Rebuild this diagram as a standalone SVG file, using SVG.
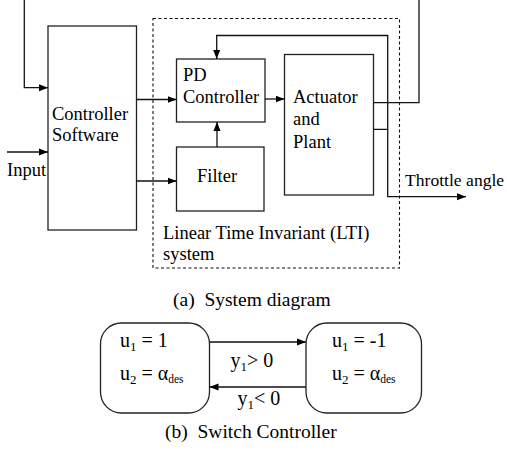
<svg xmlns="http://www.w3.org/2000/svg" width="507" height="455" viewBox="0 0 507 455">
<style>
text{font-family:"Liberation Serif","Times New Roman",serif;font-size:18.5px;fill:#000}
.cap{font-size:19.5px}
.st{font-size:20px}
.box{fill:#fff;stroke:#222;stroke-width:1.3}
.dash{fill:none;stroke:#111;stroke-width:1.1;stroke-dasharray:3,2.5}
.ln{fill:none;stroke:#111;stroke-width:1.3}
.sub{font-size:13px}
.sub2{font-size:11.5px}
</style>
<defs>
<marker id="ah" markerUnits="userSpaceOnUse" markerWidth="9" markerHeight="8" refX="9" refY="4" orient="auto">
<path d="M0,0.5 L9,4 L0,7.5 z" fill="#000"/>
</marker>
</defs>
<rect width="507" height="455" fill="#fff"/>
<g id="lti">
<rect class="dash" x="153" y="18.5" width="246.5" height="249.5"/>
<text x="163" y="239">Linear Time Invariant (LTI)</text>
<text x="163" y="260">system</text>
</g>
<g id="controller-software">
<rect class="box" x="48" y="26" width="88.5" height="204"/>
<text x="52" y="120">Controller</text>
<text x="52" y="141">Software</text>
</g>
<g id="pd-controller">
<rect class="box" x="176.5" y="59" width="88.5" height="63"/>
<text x="183" y="81">PD</text>
<text x="183" y="102.5">Controller</text>
</g>
<g id="filter">
<rect class="box" x="176.5" y="147" width="87.5" height="64"/>
<text x="197" y="182">Filter</text>
</g>
<g id="actuator">
<rect class="box" x="284.5" y="54.5" width="89" height="140.5"/>
<text x="293" y="103">Actuator</text>
<text x="293" y="125">and</text>
<text x="293" y="148">Plant</text>
</g>
<g id="labels">
<text x="7" y="176">Input</text>
<text x="405" y="186" style="font-size:17.6px">Throttle angle</text>
</g>
<g id="connectors">
<path class="ln" d="M24.3,0 V87.7 H48" marker-end="url(#ah)"/>
<path class="ln" d="M7,152 H48" marker-end="url(#ah)"/>
<path class="ln" d="M136.5,99.5 H176.5" marker-end="url(#ah)"/>
<path class="ln" d="M136.5,181 H176.5" marker-end="url(#ah)"/>
<path class="ln" d="M217,147 V122" marker-end="url(#ah)"/>
<path class="ln" d="M265,99 H284.5" marker-end="url(#ah)"/>
<path class="ln" d="M373.5,129.3 H387.7 V35.5 H216.7 V59" marker-end="url(#ah)"/>
<path class="ln" d="M387.7,129.3 V196.7 H466" marker-end="url(#ah)"/>
<path class="ln" d="M373.5,102.7 H419 V0"/>
<path class="ln" d="M209.5,342 H306" marker-end="url(#ah)"/>
<path class="ln" d="M306,387 H209.5" marker-end="url(#ah)"/>
</g>
<text class="cap" x="173" y="306" xml:space="preserve">(a)  System diagram</text>
<g id="state1">
<rect class="box" x="100.5" y="323" width="109" height="90" rx="21"/>
<text class="st" x="120" y="347">u<tspan class="sub" dy="4">1</tspan><tspan dy="-4"> = 1</tspan></text>
<text class="st" x="120" y="380">u<tspan class="sub" dy="4">2</tspan><tspan dy="-4"> = α</tspan><tspan class="sub2" dy="3">des</tspan></text>
</g>
<g id="state2">
<rect class="box" x="306" y="323" width="115.5" height="90" rx="21"/>
<text class="st" x="332" y="347">u<tspan class="sub" dy="4">1</tspan><tspan dy="-4"> = -1</tspan></text>
<text class="st" x="332" y="380">u<tspan class="sub" dy="4">2</tspan><tspan dy="-4"> = α</tspan><tspan class="sub2" dy="3">des</tspan></text>
</g>
<g id="edge-labels">
<text class="st" x="230.5" y="367">y<tspan class="sub" dy="4">1</tspan><tspan dy="-4">&gt; 0</tspan></text>
<text class="st" x="237.5" y="405">y<tspan class="sub" dy="4">1</tspan><tspan dy="-4">&lt; 0</tspan></text>
</g>
<text class="cap" x="165" y="438" xml:space="preserve">(b)  Switch Controller</text>
</svg>
